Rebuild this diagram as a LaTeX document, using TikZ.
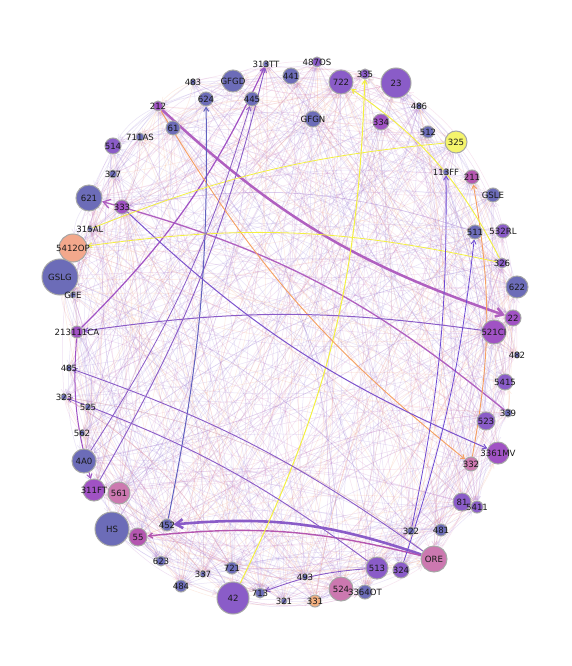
\documentclass[tikz,border=0pt]{standalone}
\usepackage{fontspec}
\setmainfont{DejaVu Sans}
\usetikzlibrary{arrows.meta}
\pgfdeclarelayer{back}
\pgfdeclarelayer{bg}
\pgfsetlayers{back,bg,main}
\definecolor{cB}{HTML}{6C6CB8}
\definecolor{cP}{HTML}{8A5CC8}
\definecolor{cM}{HTML}{A052C4}
\definecolor{cN}{HTML}{B456B0}
\definecolor{cK}{HTML}{CC78B0}
\definecolor{cS}{HTML}{F3A88C}
\definecolor{cT}{HTML}{F2B080}
\definecolor{cY}{HTML}{F4F46C}
\definecolor{fA}{HTML}{9070D0}
\definecolor{fB}{HTML}{E090C0}
\definecolor{fC}{HTML}{F5B090}
\definecolor{fD}{HTML}{A890E0}
\definecolor{fE}{HTML}{B060C0}
\definecolor{eY}{HTML}{F2F040}
\definecolor{eO}{HTML}{F5A060}
\begin{document}
\begin{tikzpicture}[x=1pt,y=-1pt,
  nd/.style={circle,draw=black!35,line width=1pt,inner sep=0pt},
  lbl/.style={font=\fontsize{8.6}{9}\selectfont,text=black!90,inner sep=0pt},
  tip/.style={-{Straight Barb[length=4pt,width=5pt]}},
  bigtip/.style={-{Straight Barb[length=7pt,width=9pt]}},
  faint1/.style={draw=fA,opacity=0.2,line width=0.5pt},
  faint2/.style={draw=fB,opacity=0.24,line width=0.5pt},
  faint3/.style={draw=fC,opacity=0.26,line width=0.5pt},
  faint4/.style={draw=fD,opacity=0.26,line width=0.5pt},
  faint5/.style={draw=fE,opacity=0.2,line width=0.5pt}]
\useasboundingbox (0,0) rectangle (572,666);
\begin{pgfonlayer}{back}
\fill[white] (0,0) rectangle (572,666);
\end{pgfonlayer}
\foreach \nm/\x/\y/\r/\c [count=\k] in {
 313TT/266/64/3/cB, 487OS/317/62/5/cP, 441/291/76/8/cB, GFGD/233/81/11/cB,
 722/341/82/12/cP, 335/365/74/5/cP, 23/396/83/15/cP, 486/419/106/3/cB,
 483/193/82/3/cB, 624/206/99/7/cB, 445/252/99/7/cB, 212/158/106/5/cM,
 GFGN/313/119/8/cB, 334/381/122/8/cM, 512/428/132/6/cB, 325/456/142/11/cY,
 61/173/128/7/cB, 711AS/140/137/4/cB, 514/113/146/8/cP, 327/113/174/4/cB,
 113FF/446/172/3/cB, 211/472/177/7/cN, GSLE/493/195/7/cB, 621/89/198/13/cB,
 333/122/207/7/cM, 315AL/90/229/2.5/cB, 5412OP/73/248/14/cS, GSLG/60/277/18/cB,
 GFE/73/295/3/cB, 213111CA/77/332/6/cM, 511/475/232/7/cB, 532RL/503/231/7/cP,
 326/502/263/5/cP, 622/517/287/11/cB, 22/513/318/8/cM, 521CI/494/332/12/cM,
 482/517/355/3/cB, 5415/505/382/8/cP, 339/508/413/4/cB, 523/486/421/9/cP,
 3361MV/498/453/11/cM, 332/471/464/7/cK, 485/69/368/3/cB, 323/64/397/3/cB,
 525/88/407/3/cB, 562/82/433/3/cB, 4A0/84/461/12/cB, 311FT/94/490/11/cM,
 561/119/493/11/cK, HS/112/529/17/cB, 55/138/537/9/cN, 452/167/525/6/cB,
 623/161/561/5/cB, 337/203/574/3/cB, 484/181/586/6/cB, 721/232/568/6/cB,
 42/233/598/16/cP, 713/260/593/5/cB, 321/284/601/3/cB, 493/305/577/3/cB,
 331/315/601/6/cT, 524/341/589/12/cK, 3364OT/365/592/7/cB, 513/377/568/11/cP,
 324/401/570/8/cP, 322/411/531/4/cB, 481/441/530/6/cB, ORE/434/559/13/cK,
 81/462/502/9/cP, 5411/477/507/6/cP}
{
  \node[nd,fill=\c,minimum size={2*\r*1pt},alias=v\k,label={[lbl]center:\nm}] (n\nm) at (\x,\y) {};
}
\begin{pgfonlayer}{bg}
\pgfmathsetseed{11}
\foreach \i in {1,...,760} {
  \pgfmathtruncatemacro\a{random(1,70)}
  \pgfmathtruncatemacro\b{random(1,70)}
  \pgfmathtruncatemacro\cc{random(1,5)}
  \ifnum\a=\b\else
    \draw[faint\cc,tip] (v\a) to[bend right=14] (v\b);
  \fi
}
% prominent edges
\draw[line width=2.5pt,draw=fE,bigtip] (n212) to[bend right=12] (n22);
\draw[line width=2.6pt,draw=cP,bigtip] (nORE) to[bend right=12] (n452);
\draw[line width=1.4pt,draw=cN,tip] (nORE) to[bend right=10] (n55);
\draw[line width=1.3pt,draw=fE,bigtip] (n339) to[bend right=12] (n621);
\draw[line width=1.2pt,draw=cM,tip] (n213111CA) to[bend right=10] (n313TT);
\draw[line width=0.9pt,draw=cP,tip] (n311FT) to[bend right=8] (n313TT);
\draw[line width=1pt,draw=eY,tip] (n42) to[bend right=12] (n335);
\draw[line width=0.9pt,draw=eO,tip] (n212) to[bend right=10] (n332);
\draw[line width=0.9pt,draw=eO,tip] (n332) to[bend right=10] (n211);
\draw[line width=1pt,draw=cB!90!blue,tip] (n452) to[bend right=6] (n624);
\draw[line width=1pt,draw=cP,tip] (n521CI) to[bend right=8] (n213111CA);
\draw[line width=1pt,draw=cP!90!blue,tip] (n333) to[bend right=10] (n3361MV);
\draw[line width=1pt,draw=cM,tip] (n213111CA) to[bend right=10] (n311FT);
\draw[line width=0.9pt,draw=cP,tip] (nORE) to[bend right=8] (n485);
\draw[line width=0.9pt,draw=cP,tip] (n513) to[bend right=8] (n323);
\draw[line width=0.9pt,draw=eY,tip] (n326) to[bend right=14] (n722);
\draw[line width=0.8pt,draw=eY,tip] (n326) to[bend right=10] (n5412OP);
\draw[line width=0.8pt,draw=eY] (n325) to[bend right=8] (n315AL);
\draw[line width=0.9pt,draw=cP,tip] (n513) to[bend right=8] (n713);
\draw[line width=0.8pt,draw=cP!80!blue,tip] (n322) to[bend right=6] (n113FF);
\draw[line width=0.8pt,draw=cP!80!blue,tip] (n324) to[bend right=6] (n511);
\draw[line width=0.8pt,draw=cP,tip] (n4A0) to[bend right=8] (n445);
\end{pgfonlayer}
\end{tikzpicture}
\end{document}
